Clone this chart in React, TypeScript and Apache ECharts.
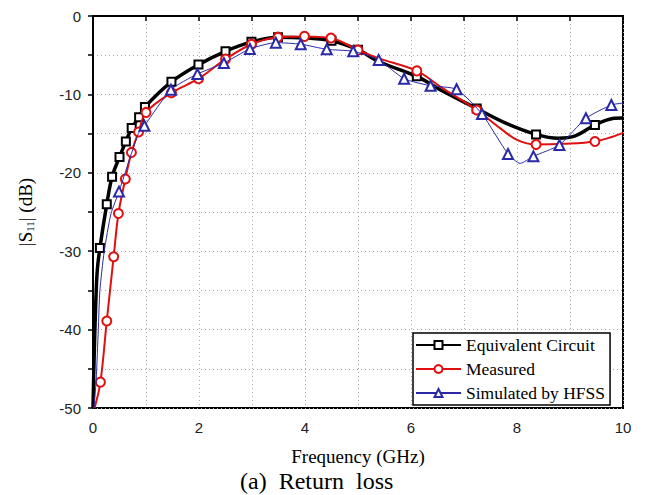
import React, { useEffect, useRef } from "react";
import * as echarts from "echarts";

// Equivalent Circuit (black)
const ecFreq = [0, 0.02, 0.05, 0.08, 0.13, 0.26, 0.36, 0.5, 0.62, 0.73, 0.87, 0.98, 1.48, 1.99, 2.5, 2.99, 3.49, 4.0, 4.5, 5.0, 5.39, 6.11, 6.55, 7.24, 7.8, 8.36, 8.78, 9.1, 9.47, 9.83, 10];
const ecVal = [-50, -44, -37, -32.5, -29.6, -24.0, -20.5, -18.0, -16.0, -14.3, -12.9, -11.6, -8.4, -6.2, -4.5, -3.3, -2.7, -2.8, -3.15, -4.3, -5.8, -7.7, -9.4, -11.8, -13.7, -15.1, -15.6, -15.3, -13.9, -13.05, -13.0];
const ecMarks = [4, 5, 6, 7, 8, 9, 10, 11, 12, 13, 14, 15, 16, 18, 19, 21, 23, 25, 28];

// Measured (red)
const msFreq = [0.03, 0.14, 0.26, 0.39, 0.48, 0.61, 0.725, 0.86, 1.0, 1.48, 1.99, 2.5, 2.99, 3.49, 3.99, 4.49, 5.0, 5.39, 6.11, 6.55, 7.24, 7.68, 8.0, 8.36, 8.9, 9.47, 9.8, 10];
const msVal = [-50, -46.7, -38.9, -30.7, -25.2, -20.8, -17.4, -14.8, -12.3, -9.8, -8.0, -5.5, -3.6, -2.7, -2.6, -2.8, -4.35, -5.4, -7.0, -9.0, -12.0, -14.3, -15.8, -16.4, -16.3, -16.0, -15.4, -14.9];
const msMarks = [1, 2, 3, 4, 5, 6, 7, 8, 9, 10, 11, 12, 13, 14, 15, 16, 18, 20, 23, 25];

// Simulated by HFSS (blue)
const hfFreq = [0.02, 0.06, 0.10, 0.13, 0.21, 0.34, 0.49, 0.855, 0.97, 1.47, 1.97, 2.47, 2.96, 3.45, 3.92, 4.41, 4.91, 5.39, 5.87, 6.37, 6.86, 7.34, 7.83, 8.06, 8.31, 8.8, 9.3, 9.78, 10];
const hfVal = [-50, -46.4, -40, -35, -30.1, -25.2, -22.4, -15.0, -14.0, -9.4, -7.4, -6.0, -4.2, -3.4, -3.6, -4.25, -4.5, -5.6, -8.0, -8.9, -9.35, -12.5, -17.6, -18.8, -17.9, -16.45, -13.05, -11.35, -11.1];
const hfMarks = [6, 8, 9, 10, 11, 12, 13, 14, 15, 16, 17, 18, 19, 20, 21, 22, 24, 25, 26, 27];

const seriesNames = ["Equivalent Circuit", "Measured", "Simulated by HFSS"];
const xTicks = [0, 2, 4, 6, 8, 10];
const yTicks = [0, -10, -20, -30, -40, -50];

const build = (f: number[], v: number[], marks: number[]) =>
  f.map((x, i) =>
    marks.includes(i) ? { value: [x, v[i]] } : { value: [x, v[i]], symbol: "none" }
  );

export default function App() {
  const ref = useRef<HTMLDivElement>(null);
  useEffect(() => {
    if (!ref.current) return;
    const chart = echarts.init(ref.current, null, { renderer: "svg" });
    const serif = "Liberation Serif, Times New Roman, serif";
    const sans = "Liberation Sans, Arial, sans-serif";
    chart.setOption({
      animation: false,
      backgroundColor: "#fff",
      grid: {
        left: 93,
        right: 23,
        top: 16,
        bottom: 87,
        show: true,
        borderColor: "#000",
        borderWidth: 2,
        backgroundColor: "transparent",
      },
      legend: {
        orient: "vertical",
        left: 413,
        top: 333,
        backgroundColor: "#fff",
        borderColor: "#000",
        borderWidth: 1.5,
        borderRadius: 0,
        padding: [3, 5, 3, 2],
        itemWidth: 45,
        itemHeight: 10,
        itemGap: 6,
        textStyle: { fontFamily: serif, fontSize: 17.5, color: "#000", lineHeight: 18 },
        data: seriesNames,
      },
      xAxis: {
        type: "value",
        min: 0,
        max: 10,
        interval: 1,
        name: "Frequency (GHz)",
        nameLocation: "middle",
        nameGap: 39,
        nameTextStyle: { fontFamily: serif, fontSize: 19, color: "#000" },
        axisLine: { show: true, lineStyle: { color: "#000", width: 2 } },
        axisTick: { show: true, inside: false, length: 5, lineStyle: { color: "#000", width: 1.5 } },
        axisLabel: {
          margin: 12,
          fontFamily: sans,
          fontSize: 15,
          color: "#222",
          formatter: (v: number) => (xTicks.includes(v) ? String(v) : ""),
        },
        splitLine: { show: true, lineStyle: { color: "#aaa", type: [1, 3], width: 1 } },
      },
      yAxis: {
        type: "value",
        min: -50,
        max: 0,
        interval: 5,
        name: "|S{sub|11}| (dB)",
        nameLocation: "middle",
        nameGap: 58,
        nameRotate: 90,
        nameTextStyle: {
          fontFamily: serif,
          fontSize: 19,
          color: "#000",
          rich: {
            sub: { fontFamily: serif, fontSize: 11, color: "#000", verticalAlign: "bottom", padding: [8, 0, 0, 0] },
          },
        },
        axisLine: { show: true, lineStyle: { color: "#000", width: 2 } },
        axisTick: { show: true, inside: false, length: 5, lineStyle: { color: "#000", width: 1.5 } },
        axisLabel: {
          margin: 12,
          fontFamily: sans,
          fontSize: 15,
          color: "#222",
          formatter: (v: number) => (yTicks.includes(v) ? String(v) : ""),
        },
        splitLine: { show: true, lineStyle: { color: "#aaa", type: [1, 3], width: 1 } },
      },
      graphic: [
        {
          type: "text",
          left: 318 - 78,
          top: 469,
          style: {
            text: "(a)  Return  loss",
            font: "24px " + serif,
            fill: "#000",
            width: 160,
            align: "left",
          },
        },
      ],
      series: [
        {
          name: seriesNames[1],
          type: "line",
          smooth: 0.35,
          symbol: "emptyCircle",
          symbolSize: 9,
          color: "#e01010",
          lineStyle: { color: "#e01010", width: 2 },
          itemStyle: { color: "#e01010", borderWidth: 1 },
          data: build(msFreq, msVal, msMarks),
          z: 3,
        },
        {
          name: seriesNames[2],
          type: "line",
          smooth: 0.2,
          symbol: "emptyTriangle",
          symbolSize: 10,
          color: "#2a2aa8",
          lineStyle: { color: "#2a2aa8", width: 1 },
          itemStyle: { color: "#2a2aa8", borderWidth: 1 },
          data: build(hfFreq, hfVal, hfMarks),
          z: 4,
        },
        {
          name: seriesNames[0],
          type: "line",
          smooth: 0.35,
          symbol: "emptyRect",
          symbolSize: 8,
          color: "#000",
          lineStyle: { color: "#000", width: 3.5 },
          itemStyle: { color: "#000", borderWidth: 1 },
          data: build(ecFreq, ecVal, ecMarks),
          z: 2,
        },
      ],
    });
    return () => chart.dispose();
  }, []);
  return (
    <div
      ref={ref}
      style={{ position: "fixed", left: 0, top: 0, width: 646, height: 495 }}
    />
  );
}
